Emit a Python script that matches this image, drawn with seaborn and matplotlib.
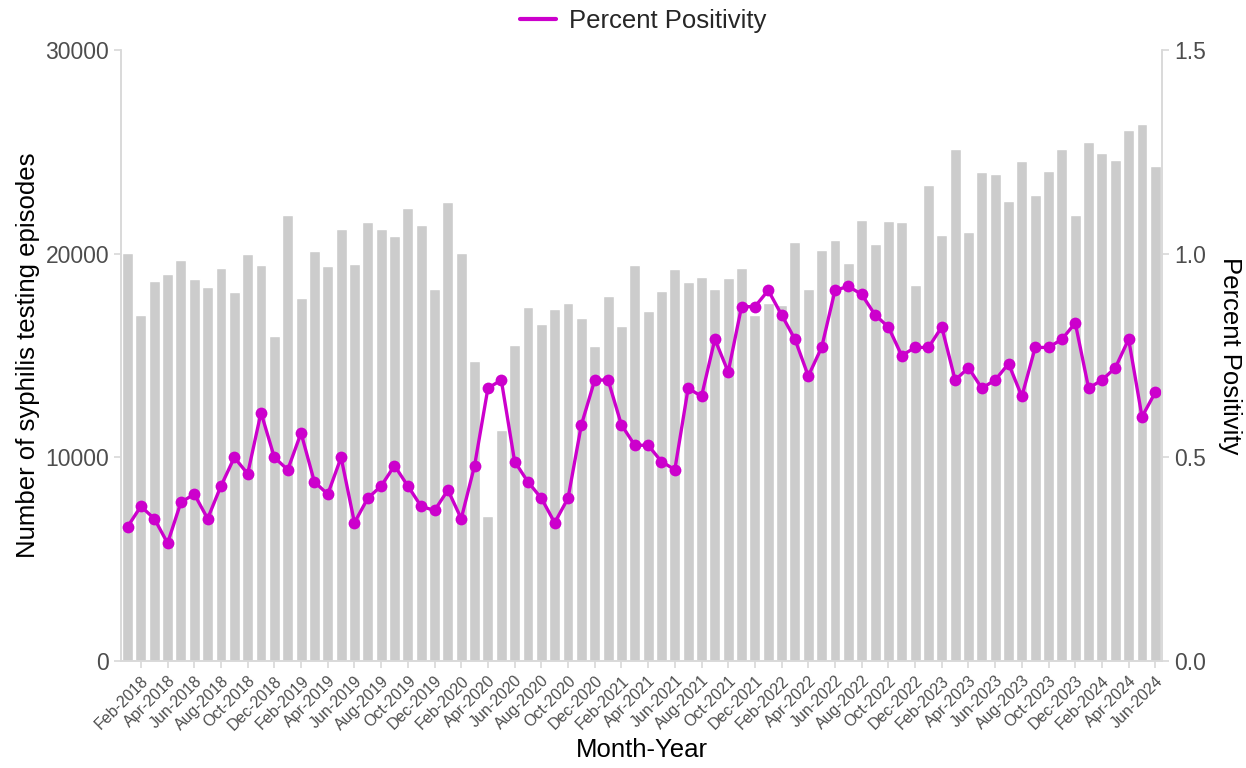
import numpy as np
import pandas as pd
import matplotlib
matplotlib.use("Agg")
import matplotlib.pyplot as plt
import seaborn as sns
from matplotlib.lines import Line2D

# months Jan-2018 .. Jun-2024
months = pd.date_range("2018-01-01", periods=78, freq="MS").strftime("%b-%Y").tolist()

# number of syphilis testing episodes per month
tests = [20050, 16980, 18660, 19000, 19690, 18740, 18380, 19300, 18140, 19990, 19450, 15950,
         21910, 17820, 20130, 19390, 21210, 19510, 21550, 21210, 20890, 22240, 21410, 18260,
         22560, 20010, 14710, 7120, 11360, 15510, 17380, 16560, 17280, 17600, 16860, 15470,
         17920, 16460, 19450, 17180, 18160, 19270, 18620, 18840, 18280, 18800, 19310, 16980,
         17600, 17480, 20570, 18280, 20190, 20690, 19550, 21670, 20470, 21610, 21550, 18440,
         23360, 20910, 25150, 21070, 24020, 23920, 22600, 24560, 22880, 24060, 25130, 21890,
         25490, 24920, 24600, 26050, 26350, 24300]

# percent positivity per month
positivity = [0.33, 0.38, 0.35, 0.29, 0.39, 0.41, 0.35, 0.43, 0.50, 0.46, 0.61, 0.50,
              0.47, 0.56, 0.44, 0.41, 0.50, 0.34, 0.40, 0.43, 0.48, 0.43, 0.38, 0.37,
              0.42, 0.35, 0.48, 0.67, 0.69, 0.49, 0.44, 0.40, 0.34, 0.40, 0.58, 0.69,
              0.69, 0.58, 0.53, 0.53, 0.49, 0.47, 0.67, 0.65, 0.79, 0.71, 0.87, 0.87,
              0.91, 0.85, 0.79, 0.70, 0.77, 0.91, 0.92, 0.90, 0.85, 0.82, 0.75, 0.77,
              0.77, 0.82, 0.69, 0.72, 0.67, 0.69, 0.73, 0.65, 0.77, 0.77, 0.79, 0.83,
              0.67, 0.69, 0.72, 0.79, 0.60, 0.66]

df = pd.DataFrame({"month": months, "tests": tests, "positivity": positivity})
df["pos"] = np.arange(len(df))

sns.set_theme(style="white")
plt.rcParams["font.family"] = ["Liberation Sans", "DejaVu Sans"]

tick_col = "#4d4d4d"
spine_col = "#d9d9d9"
line_col = "#cc00cc"

fig, ax = plt.subplots(figsize=(12.46, 7.68), dpi=100)
fig.subplots_adjust(left=0.097, right=0.9326, top=0.935, bottom=0.139)

sns.barplot(data=df, x="month", y="tests", color="#cccccc", width=0.82,
            saturation=1, ax=ax, order=months)
ax.set_ylim(0, 30000)
ax.set_yticks([0, 10000, 20000, 30000])
ax.set_xlim(-0.5, len(months) - 0.5)
ax.set_xticks(df["pos"][1::2])
ax.set_xticklabels(df["month"][1::2], rotation=45, ha="right",
                   rotation_mode="anchor", fontsize=11.5, color=tick_col)
ax.set_xlabel("Month-Year", fontsize=18.5, color="black", labelpad=4)
ax.set_ylabel("Number of syphilis testing episodes", fontsize=18.5, color="black")
ax.tick_params(axis="y", labelsize=16.5, labelcolor=tick_col, length=5,
               color=spine_col, left=True, direction="out")
ax.tick_params(axis="x", length=5, color=spine_col, bottom=True, direction="out")

ax2 = ax.twinx()
sns.lineplot(data=df, x="pos", y="positivity", color=line_col, linewidth=2.4,
             marker="o", markersize=8.5, markeredgewidth=0, ax=ax2,
             label="Percent Positivity")
ax2.set_ylim(0, 1.5)
ax2.set_yticks([0, 0.5, 1.0, 1.5])
ax2.set_yticklabels(["0.0", "0.5", "1.0", "1.5"])
ax2.set_xlim(-0.5, len(months) - 0.5)
ax2.set_ylabel("Percent Positivity", fontsize=18.5, color="black",
               rotation=270, labelpad=26)
ax2.tick_params(axis="y", labelsize=16.5, labelcolor=tick_col, length=5,
                color=spine_col, right=True, direction="out")

for a in (ax, ax2):
    for side in ("left", "right", "bottom"):
        a.spines[side].set_color(spine_col)
        a.spines[side].set_linewidth(1.1)
    a.spines["top"].set_visible(False)

# legend with plain line handle at the top
ax2.legend_.remove()
handle = Line2D([], [], color=line_col, linewidth=3)
fig.legend([handle], ["Percent Positivity"], loc="upper center",
           bbox_to_anchor=(0.516, 1.018), frameon=False, fontsize=18.5,
           handlelength=1.4, handletextpad=0.5)

fig.savefig("out.png", dpi=100)
